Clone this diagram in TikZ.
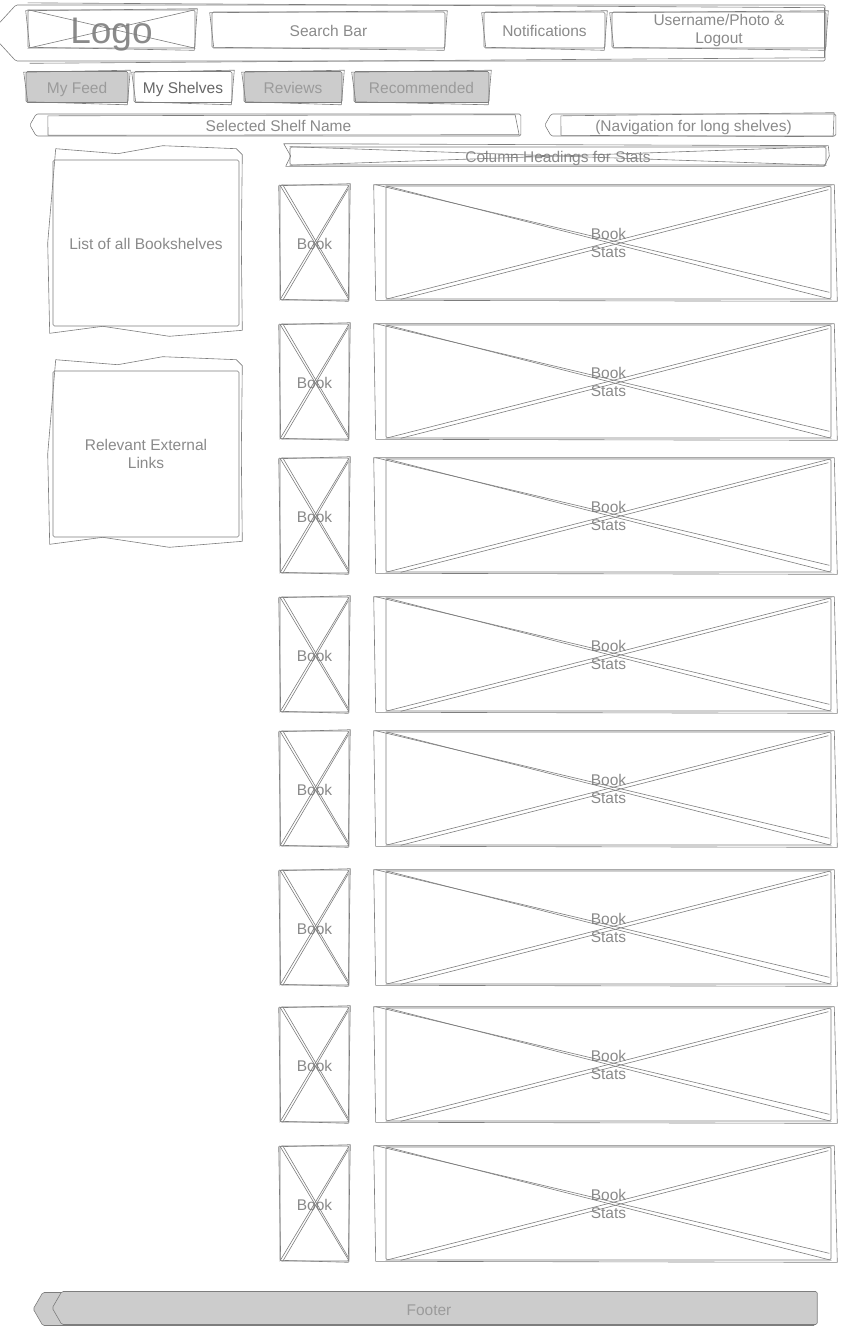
\documentclass[tikz,border=0pt]{standalone}
\usepackage{fontspec}
\setmainfont{Liberation Sans}
\usetikzlibrary{positioning,shapes.symbols}

\begin{document}
\begin{tikzpicture}[x=1pt,y=-1pt]
    \tikzset{every path/.style={line join=round}}
\definecolor{Wire_line}{RGB}{125,125,125}
\definecolor{Wire_text}{RGB}{138,138,138}
\definecolor{Wire_tabtext}{RGB}{155,155,155}
\definecolor{Wire_fill}{RGB}{204,204,204}
\tikzset{
    wire/.style={draw=Wire_line, line width=0.6pt},
    box/.style={rectangle, wire, rounded corners=1.5pt, inner sep=0pt, text=Wire_text, align=center, font=\fontsize{15.5}{18}\selectfont},
    oneline/.style={text height=13.5pt, text depth=0.5pt},
    tabbox/.style={box, oneline, fill=Wire_fill, text=Wire_tabtext, minimum height=31},
    tagbox/.style={box, signal, signal to=west, signal pointer angle=120}
}
\useasboundingbox (0,0) rectangle (844,1327);

% Kopfzeile
\node[tagbox, signal pointer angle=95, minimum width=835, minimum height=56] (header) at (420.5,33) {};
\node[box, minimum width=167, minimum height=38, text height=30pt, text depth=1pt] (logo) at (111.5,29) {\fontsize{37}{40}\selectfont Logo};
\node[box, oneline, minimum width=233, minimum height=36] (search) at (328.5,30) {Search Bar};
\node[box, oneline, minimum width=121, minimum height=36] (notif) at (544.5,30) {Notifications};
\node[box, minimum width=214, minimum height=36] (user) at (719,30) {Username/Photo \&\\Logout};
\draw[wire] ([shift={(12,-2)}]header.north west) -- ([shift={(-1,3)}]header.north east) -- ([shift={(-1,-3)}]header.south east) -- ([shift={(14,2)}]header.south west);

% Reiter
\node[tabbox, minimum width=102] (feed) at (77,87) {My Feed};
\node[box, oneline, minimum width=98, minimum height=31, text=black!60] (shelves) at (183,87) {My Shelves};
\node[tabbox, minimum width=98] (reviews) at (293,87) {Reviews};
\node[tabbox, minimum width=135] (recomm) at (421.5,87) {Recommended};

% zweite Strichlage (Skizze)
\foreach \n in {logo,search,notif,user,feed,shelves,reviews,recomm} {
    \draw[wire] ([shift={(-2,1)}]\n.north west) -- ([shift={(2,-1)}]\n.north east) -- ([shift={(-1,2)}]\n.south east) -- ([shift={(2,-1)}]\n.south west) -- cycle;
}

% Kreuz im Logo
\draw[wire] (logo.north west) -- (logo.south east);
\draw[wire] (logo.south west) -- (logo.north east);

% Regalname und Navigation
\node[tagbox, oneline, minimum width=491, minimum height=22] (shelfname) at (278.5,125) {Selected Shelf Name};
\draw[wire] ([shift={(12,2)}]shelfname.north west) -- ([shift={(-6,1)}]shelfname.north east) -- ([shift={(-2,-1)}]shelfname.south east) -- ([shift={(12,-1)}]shelfname.south west) -- cycle;
\node[tagbox, oneline, minimum width=291, minimum height=22] (nav) at (693.5,125) {(Navigation for long shelves)};
\draw[wire] ([shift={(10,2)}]nav.north west) -- ([shift={(-2,-1)}]nav.north east) -- ([shift={(-3,1)}]nav.south east) -- ([shift={(10,-1)}]nav.south west) -- cycle;

% Spaltenkoepfe
\node[box, oneline, minimum width=536, minimum height=18] (colhead) at (558,156) {Column Headings for Stats};
\draw[wire] ([shift={(-6,-3)}]colhead.north west) -- ([shift={(2,-1)}]colhead.north east) -- ([shift={(3,0)}]colhead.east) -- ([shift={(-2,1)}]colhead.south east) -- ([shift={(-4,1)}]colhead.south west) -- ([shift={(1,0)}]colhead.west) -- cycle;
\draw[wire] (colhead.north west) -- (colhead.south east);
\draw[wire] (colhead.south west) -- (colhead.north east);

% linke Spalte
\node[box, oneline, minimum width=186, minimum height=166] (shelflist) at (146,243) {List of all Bookshelves};
\node[box, minimum width=186, minimum height=166] (extlinks) at (146,454) {Relevant External\\Links};
\foreach \n in {shelflist,extlinks} {
    \draw[wire] ([shift={(3,-11)}]\n.north west) -- ([shift={(65,-6)}]\n.north west) -- ([shift={(110,-14)}]\n.north west) -- ([shift={(-3,-11)}]\n.north east) -- ([shift={(3,-5)}]\n.north east) -- ([shift={(2,0)}]\n.east) -- ([shift={(3,4)}]\n.south east) -- ([shift={(-70,10)}]\n.south east) -- ([shift={(50,0)}]\n.south west) -- ([shift={(-3,7)}]\n.south west) -- ([shift={(-5,0)}]\n.west) -- cycle;
}

% Buecher
\foreach \y [count=\i] in {242.5,381.5,515.5,654.5,788.5,927.5,1064.5,1203.5} {
    \node[box, oneline, minimum width=69, minimum height=115] (book\i) at (314.5,\y) {Book};
    \node[box, minimum width=445, minimum height=113] (stats\i) at (608.5,\y) {Book\\Stats};
    \draw[wire] ([shift={(-1,1)}]book\i.north west) -- ([shift={(1,-1)}]book\i.north east) -- ([shift={(-1,1)}]book\i.south east) -- ([shift={(1,-1)}]book\i.south west) -- cycle;
    \draw[wire] (book\i.north west) -- (book\i.south east);
    \draw[wire] ([shift={(3,0)}]book\i.north west) -- ([shift={(-1,-4)}]book\i.south east);
    \draw[wire] (book\i.south west) -- (book\i.north east);
    \draw[wire] ([shift={(3,0)}]book\i.south west) -- ([shift={(-1,4)}]book\i.north east);
    \draw[wire] ([shift={(-12,-1)}]stats\i.north west) -- ([shift={(3,-1)}]stats\i.north east) -- ([shift={(6,2)}]stats\i.south east) -- ([shift={(-10,1)}]stats\i.south west) -- cycle;
    \draw[wire] (stats\i.north west) -- (stats\i.south east);
    \draw[wire] ([shift={(-10,-1)}]stats\i.north west) -- ([shift={(-2,-7)}]stats\i.south east);
    \draw[wire] (stats\i.south west) -- (stats\i.north east);
    \draw[wire] ([shift={(15,0)}]stats\i.south west) -- ([shift={(-3,4)}]stats\i.north east);
}

% Fusszeile
\node[tagbox, fill=Wire_fill, minimum width=782, minimum height=33] (footerback) at (429,1309) {};
\node[tagbox, fill=Wire_fill, minimum width=765, minimum height=33] (footer) at (439.5,1308) {};
\node[box, oneline, draw=none, text=Wire_tabtext] (footertext) at (footerback.center) {Footer};

\end{tikzpicture}
\end{document}
